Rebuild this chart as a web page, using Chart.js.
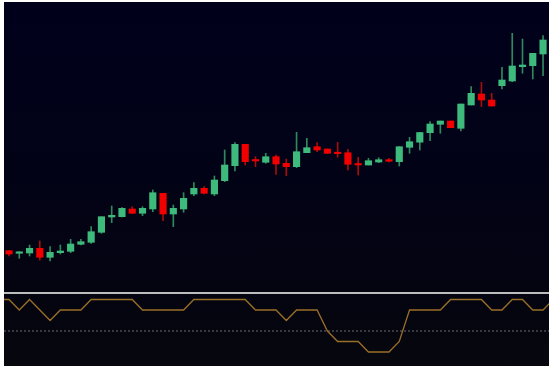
<!DOCTYPE html>
<html>
<head>
<meta charset="utf-8">
<script src="https://cdn.jsdelivr.net/npm/chart.js@4.4.0/dist/chart.umd.min.js"></script>
<style>
  html, body { margin: 0; padding: 0; background: #fff; }
  #frame {
    position: absolute; left: 4px; top: 2px; width: 545px; height: 364px;
    background: linear-gradient(to bottom, #00001b 0%, #020218 40%, #040411 78%, #07070e 100%);
  }
  #price { position: absolute; left: 0; top: 0; }
  #sep { position: absolute; left: 0; top: 290px; width: 545px; height: 2px; background: #bdbdbd; }
  #osc { position: absolute; left: 0; top: 292px; }
</style>
</head>
<body>
<div id="frame">
  <canvas id="price" width="545" height="290"></canvas>
  <div id="sep"></div>
  <canvas id="osc" width="545" height="72"></canvas>
</div>
<script>
/* ======== Data ======== */
const OPEN  = [24.93, 24.67, 24.70, 25.17, 24.27, 24.73, 24.87, 25.57, 25.77, 26.77,
               28.30, 28.33, 29.10, 28.67, 29.10, 30.67, 28.60, 29.10, 30.60, 31.17,
               30.60, 31.93, 33.43, 35.57, 33.97, 33.77, 34.33, 33.67, 33.33, 34.73,
               35.33, 35.10, 34.73, 34.73, 33.63, 33.50, 33.80, 34.03, 33.83, 35.27,
               35.78, 36.73, 37.57, 37.90, 37.17, 39.50, 40.60, 40.00, 41.43, 41.90,
               43.33, 43.43, 44.60];
const HIGH  = [24.95, 24.83, 25.50, 25.90, 25.33, 25.50, 26.07, 26.07, 27.33, 28.33,
               29.40, 29.23, 29.33, 29.33, 31.00, 30.67, 29.50, 30.73, 31.73, 31.33,
               32.40, 35.00, 35.73, 35.57, 34.33, 34.67, 34.50, 34.10, 36.77, 36.17,
               35.73, 35.10, 35.77, 35.07, 34.27, 34.17, 34.23, 34.17, 35.33, 36.27,
               36.77, 37.83, 37.90, 37.90, 39.60, 41.33, 41.77, 40.67, 43.27, 46.67,
               46.10, 44.67, 46.43];
const LOW   = [24.40, 24.17, 24.40, 24.00, 23.90, 24.60, 24.73, 25.50, 25.67, 26.67,
               27.73, 28.30, 28.67, 28.43, 28.83, 27.93, 27.33, 28.77, 30.43, 30.60,
               30.43, 31.83, 32.90, 33.50, 33.33, 33.67, 32.57, 32.43, 33.23, 34.73,
               34.83, 34.67, 34.27, 33.00, 32.50, 33.50, 33.73, 33.80, 33.40, 34.67,
               35.00, 35.93, 36.67, 37.23, 36.90, 39.50, 39.33, 39.40, 41.10, 41.83,
               42.67, 42.10, 42.43];
const CLOSE = [24.60, 24.77, 25.17, 24.27, 24.77, 24.90, 25.60, 25.83, 26.83, 28.33,
               28.47, 29.17, 28.67, 29.17, 30.73, 28.60, 29.17, 30.17, 31.17, 30.67,
               32.00, 33.50, 35.57, 33.83, 33.90, 34.33, 33.60, 33.33, 34.83, 35.23,
               35.00, 34.67, 34.63, 33.57, 33.50, 33.93, 34.03, 33.87, 35.33, 35.83,
               36.75, 37.60, 37.90, 37.23, 39.60, 40.67, 40.00, 39.40, 42.00, 43.40,
               43.50, 44.67, 46.00];

// lower-panel indicator, starts one bar before the first candle and ends one after
const SIGNAL_START = -1;
const SIGNAL = [5,
                5, 4, 5, 4, 3, 4, 4, 4, 5, 5,
                5, 5, 5, 4, 4, 4, 4, 4, 5, 5,
                5, 5, 5, 5, 4, 4, 4, 3, 4, 4,
                4, 2, 1, 1, 1, 0, 0, 0, 1, 4,
                4, 4, 4, 5, 5, 5, 5, 4, 4, 5,
                5, 4, 4,
                5];
const MID_LEVEL = 2;

/* ======== Colours ======== */
const UP = '#3dba7c', UP_WICK = '#2e8a5c';
const DN = '#f20000', DN_WICK = '#a80c0c';
const SIGNAL_COLOR = '#9a6f27';
const MID_COLOR = '#6e6e78';

/* ======== Shared x mapping ======== */
const X_MIN = -0.487, X_MAX = 52.58;
const hiddenX = { type: 'linear', display: false, min: X_MIN, max: X_MAX, offset: false };

const up = OPEN.map((o, i) => CLOSE[i] >= o);

new Chart(document.getElementById('price'), {
  type: 'bar',
  data: {
    datasets: [
      {
        label: 'body',
        data: OPEN.map((o, i) => ({ x: i, y: [o, CLOSE[i]] })),
        backgroundColor: up.map(u => u ? UP : DN),
        borderWidth: 0,
        barThickness: 6.5,
        minBarLength: 1.5,
        grouped: false,
        order: 0
      },
      {
        label: 'wick',
        data: HIGH.map((h, i) => ({ x: i, y: [LOW[i], h] })),
        backgroundColor: up.map(u => u ? UP_WICK : DN_WICK),
        borderWidth: 0,
        barThickness: 1,
        grouped: false,
        order: 1
      }
    ]
  },
  options: {
    responsive: false,
    animation: false,
    layout: { padding: 0 },
    plugins: { legend: { display: false }, tooltip: { enabled: false } },
    scales: {
      x: hiddenX,
      y: { type: 'linear', display: false, min: 20.8, max: 49.8 }
    }
  }
});

new Chart(document.getElementById('osc'), {
  type: 'line',
  data: {
    datasets: [
      {
        data: SIGNAL.map((v, i) => ({ x: SIGNAL_START + i, y: v })),
        borderColor: SIGNAL_COLOR,
        borderWidth: 1.3,
        pointRadius: 0,
        tension: 0
      },
      {
        data: [{ x: X_MIN, y: MID_LEVEL }, { x: X_MAX, y: MID_LEVEL }],
        borderColor: MID_COLOR,
        borderWidth: 1,
        borderDash: [2, 2],
        pointRadius: 0
      }
    ]
  },
  options: {
    responsive: false,
    animation: false,
    layout: { padding: 0 },
    plugins: { legend: { display: false }, tooltip: { enabled: false } },
    scales: {
      x: hiddenX,
      y: { type: 'linear', display: false, min: -1.333, max: 5.524 }
    }
  }
});
</script>
</body>
</html>
